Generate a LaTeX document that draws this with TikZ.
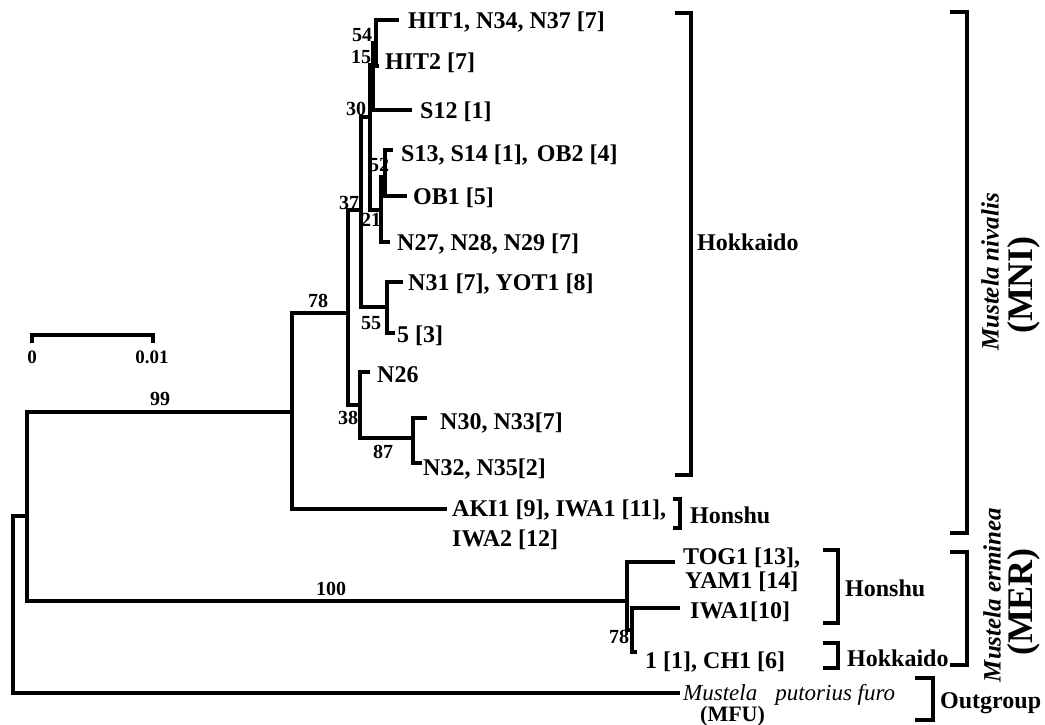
\documentclass[tikz,border=0pt]{standalone}
\usepackage{fontspec}
\setmainfont{Liberation Serif}
\begin{document}
\begin{tikzpicture}[x=1pt,y=-1pt,
  br/.style={line width=3.2pt, line join=miter},
  brk/.style={line width=3.2pt, line join=miter},
  lab/.style={anchor=base west, inner sep=0pt, font=\fontsize{24}{26}\selectfont\bfseries},
  itlab/.style={anchor=base west, inner sep=0pt, font=\fontsize{23}{25}\selectfont\itshape},
  bs/.style={anchor=center, inner sep=0pt, font=\fontsize{20}{22}\selectfont\bfseries},
  sc/.style={anchor=center, inner sep=0pt, font=\fontsize{19}{21}\selectfont\bfseries},
  rotit/.style={rotate=90, anchor=center, inner sep=0pt, font=\fontsize{25}{27}\selectfont\bfseries\itshape},
  rotbf/.style={rotate=90, anchor=center, inner sep=0pt, font=\fontsize{36}{38}\selectfont\bfseries}]
\fill[white] (0,0) rectangle (1045,725);
\useasboundingbox (0,0) rectangle (1045,725);
% internal nodes
\coordinate (root) at (13,604);
\coordinate (n99) at (27,516);
\coordinate (nA) at (292,412);
\coordinate (nB) at (348,313);
\coordinate (nC) at (361,210);
\coordinate (nD) at (370,117);
\coordinate (nE) at (373,65);
\coordinate (n54) at (376,43);
\coordinate (n21) at (381,210);
\coordinate (n52) at (385,177);
\coordinate (n55) at (387,307);
\coordinate (n38) at (360,405);
\coordinate (n87) at (413,438);
\coordinate (nMER) at (627,601);
\coordinate (nX) at (632,630);
% tips
\coordinate (tHIT1) at (399,20);
\coordinate (tHIT2) at (379,66);
\coordinate (tS12) at (412,110);
\coordinate (tS13) at (393,150);
\coordinate (tOB1) at (407,196);
\coordinate (tN27) at (390,242);
\coordinate (tN31) at (403,282);
\coordinate (tFive) at (395,333);
\coordinate (tN26) at (370,372);
\coordinate (tN30) at (427,418);
\coordinate (tN32) at (422,463);
\coordinate (tAKI) at (447,509);
\coordinate (tTOG) at (675,562);
\coordinate (tIWA) at (680,608);
\coordinate (tOne) at (637,652);
\coordinate (tMFU) at (680,693);
% branches
\draw[br] (root) |- (n99);
\draw[br] (root) |- (tMFU);
\draw[br] (n99) |- (nA);
\draw[br] (n99) |- (nMER);
\draw[br] (nA) |- (nB);
\draw[br] (nA) |- (tAKI);
\draw[br] (nB) |- (nC);
\draw[br] (nB) |- (n38);
\draw[br] (nC) |- (nD);
\draw[br] (nC) |- (n55);
\draw[br] (nD) |- (nE);
\draw[br] (nD) |- (n21);
\draw[br] (nE) |- (n54);
\draw[br] (nE) |- (tS12);
\draw[br] (n54) |- (tHIT1);
\draw[br] (n54) |- (tHIT2);
\draw[br] (n21) |- (n52);
\draw[br] (n21) |- (tN27);
\draw[br] (n52) |- (tS13);
\draw[br] (n52) |- (tOB1);
\draw[br] (n55) |- (tN31);
\draw[br] (n55) |- (tFive);
\draw[br] (n38) |- (tN26);
\draw[br] (n38) |- (n87);
\draw[br] (n87) |- (tN30);
\draw[br] (n87) |- (tN32);
\draw[br] (nMER) |- (tTOG);
\draw[br] (nMER) |- (nX);
\draw[br] (nX) |- (tIWA);
\draw[br] (nX) |- (tOne);
% bootstrap values
\node[bs] (b54) at (362,35) {54};
\node[bs] (b15) at (361,57) {15};
\node[bs] (b30) at (356,109) {30};
\node[bs] (b52) at (379,165) {52};
\node[bs] (b37) at (349,203) {37};
\node[bs] (b21) at (371,220) {21};
\node[bs] (b55) at (371,323) {55};
\node[bs] (b78) at (318,301) {78};
\node[bs] (b38) at (348,418) {38};
\node[bs] (b87) at (383,452) {87};
\node[bs] (b99) at (160,399) {99};
\node[bs] (b100) at (331,589) {100};
\node[bs] (b78m) at (619,637) {78};
% leaf labels
\node[lab] (lHIT1) at (408,29) {HIT1, N34, N37 [7]};
\node[lab] (lHIT2) at (385,70) {HIT2 [7]};
\node[lab] (lS12) at (420,118) {S12 [1]};
\node[lab] (lS13) at (401,161) {S13, S14 [1],\hspace{9pt}OB2 [4]};
\node[lab] (lOB1) at (413,204) {OB1 [5]};
\node[lab] (lN27) at (397,250) {N27, N28, N29 [7]};
\node[lab] (lN31) at (408,290) {N31 [7], YOT1 [8]};
\node[lab] (lFive) at (397,342) {5 [3]};
\node[lab] (lN26) at (377,382) {N26};
\node[lab] (lN30) at (440,429) {N30, N33[7]};
\node[lab] (lN32) at (423,475) {N32, N35[2]};
\node[lab] (lAKI) at (452,516) {AKI1 [9], IWA1 [11],};
\node[lab] (lIWA2) at (452,546) {IWA2 [12]};
\node[lab] (lTOG) at (683,564) {TOG1 [13],};
\node[lab] (lYAM) at (685,588) {YAM1 [14]};
\node[lab] (lIWA) at (690,618) {IWA1[10]};
\node[lab] (lOne) at (645,668) {1 [1], CH1 [6]};
\node[itlab] (lMFU) at (683,700) {Mustela\hspace{18pt}putorius furo};
\node[lab, font=\fontsize{22}{24}\selectfont\bfseries] (lMFUc) at (700,721) {(MFU)};
% group brackets
\draw[brk] (675,13) -- (691,13) -- (691,475) -- (675,475);
\draw[brk] (673,499) -- (680,499) -- (680,528) -- (673,528);
\draw[brk] (823,550) -- (838,550) -- (838,623) -- (823,623);
\draw[brk] (823,643) -- (838,643) -- (838,668) -- (823,668);
\draw[brk] (950,12) -- (967,12) -- (967,533) -- (950,533);
\draw[brk] (950,552) -- (967,552) -- (967,665) -- (950,665);
\draw[brk] (915,678) -- (933,678) -- (933,720) -- (915,720);
\node[lab] (gHk1) at (697,250) {Hokkaido};
\node[lab] (gHs1) at (690,523) {Honshu};
\node[lab] (gHs2) at (845,596) {Honshu};
\node[lab] (gHk2) at (847,666) {Hokkaido};
\node[lab] (gOut) at (940,708) {Outgroup};
\node[rotit] (sMNI) at (990,272) {Mustela nivalis};
\node[rotbf] (cMNI) at (1024,285) {(MNI)};
\node[rotit] (sMER) at (992,595) {Mustela erminea};
\node[rotbf] (cMER) at (1024,602) {(MER)};
% scale bar
\coordinate (sb0) at (32,343);
\coordinate (sb1) at (153,343);
\draw[br] (sb0) -- ++(0,-8) -| (sb1);
\node[sc] (s0) at (32,357) {0};
\node[sc] (s1) at (152,357) {0.01};
\end{tikzpicture}
\end{document}
